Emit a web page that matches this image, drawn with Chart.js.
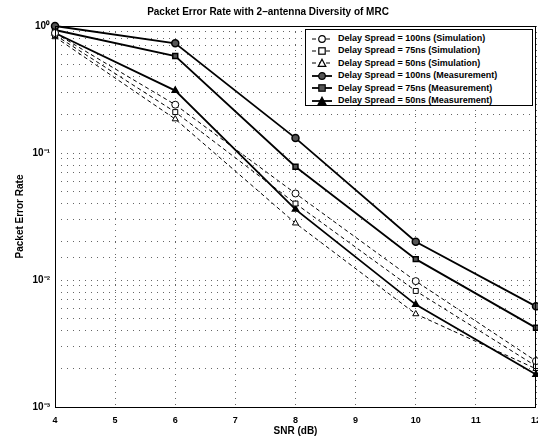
<!DOCTYPE html>
<html>
<head>
<meta charset="utf-8">
<script src="https://cdn.jsdelivr.net/npm/chart.js@4"></script>
<style>
  html, body { margin: 0; padding: 0; background: #fff; overflow: hidden; }
  #wrap { position: relative; width: 538px; height: 439px; overflow: hidden; }
  #legend {
    position: absolute; left: 305px; top: 29px; width: 228px; height: 77px;
    border: 1px solid #000; background: #fff; box-sizing: border-box;
    font: bold 9px "Liberation Sans", Arial, sans-serif; color: #000;
    padding-top: 2px;
  }
  #legend .row { height: 12.4px; line-height: 12.4px; white-space: nowrap; }
  #legend svg { vertical-align: middle; margin: 0 6px 0 6px; }
</style>
</head>
<body>
<div id="wrap">
  <canvas id="perChart" width="538" height="439"></canvas>
  <div id="legend"></div>
</div>
<script>
// ========== 데이터 ==========
const snr = [4, 6, 8, 10, 12];
const sim100 = [0.88, 0.24, 0.048, 0.0098, 0.0023];
const sim75  = [0.85, 0.21, 0.040, 0.0082, 0.0021];
const sim50  = [0.82, 0.185, 0.028, 0.0054, 0.0020];
const meas100 = [1.0, 0.73, 0.131, 0.020, 0.0062];
const meas75  = [0.93, 0.58, 0.078, 0.0146, 0.0042];
const meas50  = [0.88, 0.31, 0.036, 0.0064, 0.0018];
const seriesLabels = [
    'Delay Spread = 100ns (Simulation)',
    'Delay Spread = 75ns (Simulation)',
    'Delay Spread = 50ns (Simulation)',
    'Delay Spread = 100ns (Measurement)',
    'Delay Spread = 75ns (Measurement)',
    'Delay Spread = 50ns (Measurement)'
];
const yTickValues = [1, 0.1, 0.01, 0.001];
const yTickLabels = ['10⁰', '10⁻¹', '10⁻²', '10⁻³'];

const FONT = '"Liberation Sans", Arial, sans-serif';

// 시리즈 스타일
function simSet(label, data, shape) {
    return {
        label, data: snr.map((x, i) => ({ x, y: data[i] })),
        borderColor: '#000', borderWidth: 1, borderDash: [4, 3],
        pointStyle: shape, pointRadius: 3.5, pointBorderWidth: 1,
        pointBackgroundColor: '#fff', pointBorderColor: '#000',
        tension: 0, clip: false
    };
}
function measSet(label, data, shape, fill) {
    return {
        label, data: snr.map((x, i) => ({ x, y: data[i] })),
        borderColor: '#000', borderWidth: 1.8,
        pointStyle: shape, pointRadius: 3.5, pointBorderWidth: 1.5,
        pointBackgroundColor: fill, pointBorderColor: '#000',
        tension: 0, clip: false
    };
}

const datasets = [
    simSet(seriesLabels[0], sim100, 'circle'),
    simSet(seriesLabels[1], sim75, 'rect'),
    simSet(seriesLabels[2], sim50, 'triangle'),
    measSet(seriesLabels[3], meas100, 'circle', '#555'),
    measSet(seriesLabels[4], meas75, 'rect', '#555'),
    measSet(seriesLabels[5], meas50, 'triangle', '#000')
];

// 박스 테두리
const frame = {
    id: 'frame',
    afterDraw(c) {
        const a = c.chartArea, ctx = c.ctx;
        ctx.save();
        ctx.strokeStyle = '#000';
        ctx.lineWidth = 1;
        ctx.strokeRect(a.left + 0.5, a.top + 0.5, a.right - a.left - 1, a.bottom - a.top);
        ctx.restore();
    }
};

const gridOpts = { color: '#666', lineWidth: 1, drawTicks: false };

new Chart(document.getElementById('perChart'), {
    type: 'line',
    data: { datasets },
    plugins: [frame],
    options: {
        responsive: false,
        animation: false,
        layout: { autoPadding: false, padding: { left: 0, right: 2, top: 0, bottom: 0 } },
        plugins: {
            legend: { display: false },
            tooltip: { enabled: false },
            title: {
                display: true,
                text: 'Packet Error Rate with 2–antenna Diversity of MRC',
                color: '#000',
                font: { family: FONT, size: 10, weight: 'bold', lineHeight: 1.2 },
                padding: { top: 6, bottom: 8 }
            }
        },
        scales: {
            x: {
                type: 'linear', min: 4, max: 12,
                grid: gridOpts,
                border: { display: false, dash: [1, 5] },
                ticks: { stepSize: 1, color: '#000', padding: 8,
                    font: { family: FONT, size: 9, weight: 'bold' } },
                title: { display: true, text: 'SNR (dB)', color: '#000',
                    font: { family: FONT, size: 10, weight: 'bold' },
                    padding: { top: 0, bottom: 2 } },
                afterFit(s) { s.height = 32; s.paddingRight = 0; s.paddingLeft = 0; }
            },
            y: {
                type: 'logarithmic', min: 0.001, max: 1,
                grid: gridOpts,
                border: { display: false, dash: [1, 5] },
                ticks: {
                    autoSkip: false, color: '#000', padding: 5,
                    font: { family: FONT, size: 10, weight: 'bold' },
                    callback(v) {
                        const i = yTickValues.findIndex(t => Math.abs(Math.log10(v) - Math.log10(t)) < 1e-6);
                        return i >= 0 ? yTickLabels[i] : '';
                    }
                },
                title: { display: true, text: 'Packet Error Rate', color: '#000',
                    font: { family: FONT, size: 10, weight: 'bold' },
                    padding: { top: 14, bottom: 0 } },
                afterFit(s) { s.width = 55; s.paddingTop = 0; s.paddingBottom = 0; }
            }
        }
    }
});

// 범례
const legendEl = document.getElementById('legend');
datasets.forEach(ds => {
    const fill = ds.pointBackgroundColor;
    const dash = ds.borderDash ? 'stroke-dasharray="4 3"' : '';
    let marker;
    if (ds.pointStyle === 'circle') marker = `<circle cx="10" cy="5" r="3.3" fill="${fill}" stroke="#000" stroke-width="1.2"/>`;
    else if (ds.pointStyle === 'rect') marker = `<rect x="6.8" y="1.8" width="6.4" height="6.4" fill="${fill}" stroke="#000" stroke-width="1.2"/>`;
    else marker = `<polygon points="10,1.2 13.8,8.4 6.2,8.4" fill="${fill}" stroke="#000" stroke-width="1.2"/>`;
    const row = document.createElement('div');
    row.className = 'row';
    row.innerHTML = `<svg width="20" height="10"><line x1="0" y1="5" x2="20" y2="5" stroke="#000" stroke-width="${ds.borderWidth}" ${dash}/>${marker}</svg>${ds.label}`;
    legendEl.appendChild(row);
});
</script>
</body>
</html>
